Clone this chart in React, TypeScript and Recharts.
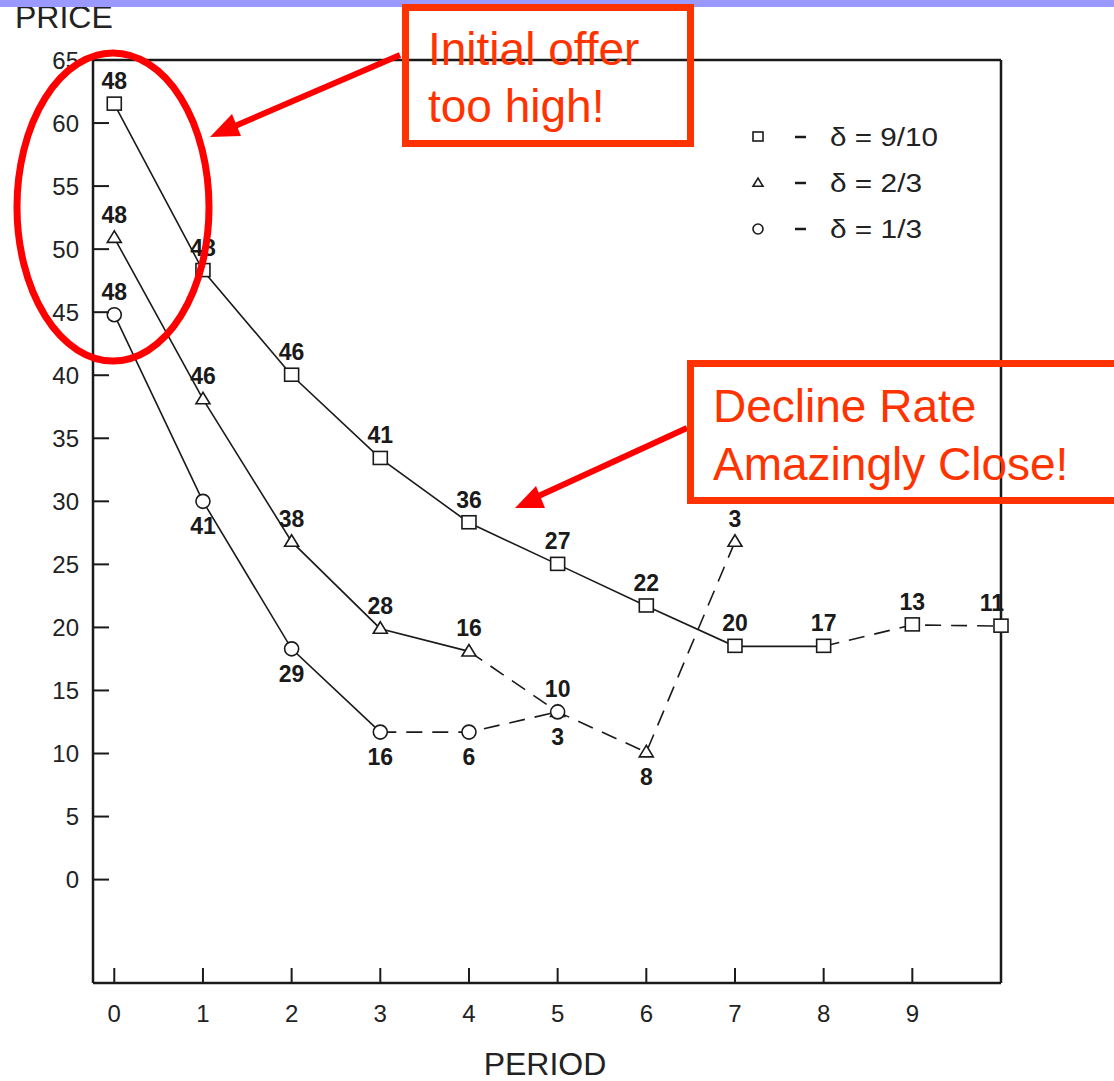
import { LineChart, Line, XAxis, YAxis, ReferenceLine } from "recharts"

const periods = [0, 1, 2, 3, 4, 5, 6, 7, 8, 9, 10]
const priceD910 = [61.5, 48.3, 40.0, 33.4, 28.3, 25.0, 21.7, 18.5, 18.5, 20.2, 20.1]
const offersD910 = [48, 48, 46, 41, 36, 27, 22, 20, 17, 13, 11]
const priceD23 = [50.9, 38.1, 26.8, 19.9, 18.1, 13.3, 10.1, 26.8]
const offersD23 = [48, 46, 38, 28, 16, 10, 8, 3]
const priceD13 = [44.8, 30.0, 18.3, 11.7, 11.7, 13.3]
const offersD13 = [48, 41, 29, 16, 6, 3]
// last period joined by a solid line; later periods are dashed
const solidEndD910 = 8
const solidEndD23 = 4
const solidEndD13 = 3
const sideD910 = ["up", "up", "up", "up", "up", "up", "up", "up", "up", "up", "up"]
const sideD23 = ["up", "up", "up", "up", "up", "up", "down", "up"]
const sideD13 = ["up", "down", "down", "down", "down", "down"]
const yTicks = [0, 5, 10, 15, 20, 25, 30, 35, 40, 45, 50, 55, 60, 65]
const xTicks = [0, 1, 2, 3, 4, 5, 6, 7, 8, 9]
const legendItems = [
  { shape: "square", text: "δ = 9/10", len: 108 },
  { shape: "triangle", text: "δ = 2/3", len: 92 },
  { shape: "circle", text: "δ = 1/3", len: 92 },
]

const INK = "#1a1a1a"
const RED = "#ff0000"
const ORANGE = "#ff3300"
const FONT = "'Liberation Sans', Arial, Helvetica, sans-serif"

const rows = (price: number[], offers: number[], sides: string[]) =>
  price.map((p, i) => ({ period: periods[i], price: p, offer: offers[i], side: sides[i] }))

const d910 = rows(priceD910, offersD910, sideD910)
const d23 = rows(priceD23, offersD23, sideD23)
const d13 = rows(priceD13, offersD13, sideD13)

function Marker({ shape, cx, cy, s }: { shape: string; cx: number; cy: number; s: number }) {
  const common = { fill: "#fff", stroke: INK, strokeWidth: 1.6 }
  if (shape === "square") return <rect x={cx - s / 2} y={cy - s / 2} width={s} height={s - 1} {...common} />
  if (shape === "triangle") {
    const h = s * 0.82
    return <polygon points={`${cx},${cy - h * 0.6} ${cx - s / 2},${cy + h * 0.4} ${cx + s / 2},${cy + h * 0.4}`} {...common} />
  }
  return <circle cx={cx} cy={cy} r={s / 2} {...common} />
}

const makeDot = (shape: string, count: number) => (props: any) => {
  const { cx, cy, index, payload } = props
  const below = payload.side === "down"
  // keep the last label inside the frame
  const dx = index === count - 1 && payload.period === 10 ? -9 : 0
  return (
    <g key={`${shape}-${index}`}>
      <Marker shape={shape} cx={cx} cy={cy} s={14} />
      <text
        x={cx + dx}
        y={below ? cy + 25 : cy - 23}
        textAnchor="middle"
        dominantBaseline="central"
        fontFamily={FONT}
        fontWeight="bold"
        fontSize={23}
        fill={INK}
      >
        {payload.offer}
      </text>
    </g>
  )
}

const YTick = ({ x, y, payload }: any) => (
  <g>
    <line x1={x} x2={x + 16} y1={y} y2={y} stroke={INK} strokeWidth={2} />
    <text x={x - 14} y={y} textAnchor="end" dominantBaseline="central" fontFamily={FONT} fontSize={24} fill="#222">
      {payload.value}
    </text>
  </g>
)

const XTick = ({ x, y, payload }: any) => (
  <g>
    <line x1={x} x2={x} y1={y} y2={y - 15} stroke={INK} strokeWidth={2} />
    <text x={x} y={y + 30} textAnchor="middle" dominantBaseline="central" fontFamily={FONT} fontSize={24} fill="#222">
      {payload.value}
    </text>
  </g>
)

export default function App() {
  const lineProps = { dataKey: "price", stroke: INK, strokeWidth: 1.6, dot: false, activeDot: false, isAnimationActive: false, type: "linear" as const }
  return (
    <div style={{ position: "absolute", left: 0, top: 0, width: 1114, height: 1081, background: "#fff", overflow: "hidden" }}>
      <LineChart width={1114} height={1081} margin={{ top: 60, right: 113, bottom: 38, left: 33 }}>
        <XAxis
          type="number"
          dataKey="period"
          domain={[-0.24, 10]}
          ticks={xTicks}
          height={60}
          tickSize={0}
          tickMargin={0}
          tickLine={false}
          axisLine={{ stroke: INK, strokeWidth: 2.5 }}
          tick={<XTick />}
          interval={0}
        />
        <YAxis
          type="number"
          domain={[-8.2, 65]}
          ticks={yTicks}
          width={60}
          tickSize={0}
          tickMargin={0}
          tickLine={false}
          axisLine={{ stroke: INK, strokeWidth: 2.5 }}
          tick={<YTick />}
          interval={0}
        />
        <ReferenceLine y={65} stroke={INK} strokeWidth={2.5} />
        <ReferenceLine x={10} stroke={INK} strokeWidth={2.5} />

        <Line {...lineProps} data={d910.slice(0, solidEndD910 + 1)} />
        <Line {...lineProps} data={d910.slice(solidEndD910)} strokeDasharray="16 10" />
        <Line {...lineProps} data={d23.slice(0, solidEndD23 + 1)} />
        <Line {...lineProps} data={d23.slice(solidEndD23)} strokeDasharray="16 10" />
        <Line {...lineProps} data={d13.slice(0, solidEndD13 + 1)} />
        <Line {...lineProps} data={d13.slice(solidEndD13)} strokeDasharray="16 10" />

        <Line {...lineProps} data={d910} stroke="none" dot={makeDot("square", d910.length)} />
        <Line {...lineProps} data={d23} stroke="none" dot={makeDot("triangle", d23.length)} />
        <Line {...lineProps} data={d13} stroke="none" dot={makeDot("circle", d13.length)} />
      </LineChart>

      <svg width={1114} height={1081} style={{ position: "absolute", left: 0, top: 0, pointerEvents: "none" }}>
        <text x={15} y={28} fontFamily={FONT} fontSize={32} fill="#222">PRICE</text>
        <text x={545} y={1075} textAnchor="middle" fontFamily={FONT} fontSize={32} fill="#222">PERIOD</text>

        {legendItems.map((it, i) => (
          <g key={it.text}>
            <Marker shape={it.shape} cx={758} cy={137 + i * 46} s={10} />
            <line x1={795} x2={806} y1={137 + i * 46} y2={137 + i * 46} stroke={INK} strokeWidth={2.5} />
            <text
              x={830}
              y={137 + i * 46}
              dominantBaseline="central"
              fontFamily={FONT}
              fontSize={25}
              fill="#222"
              textLength={it.len}
              lengthAdjust="spacingAndGlyphs"
            >
              {it.text}
            </text>
          </g>
        ))}

        <rect x={0} y={0} width={1114} height={7} fill="#9999ff" />

        <ellipse cx={113} cy={207} rx={96} ry={154} fill="none" stroke={RED} strokeWidth={7} />

        <line x1={400} y1={55} x2={228} y2={129} stroke={RED} strokeWidth={6} />
        <polygon points="210,137 232,114 241,136" fill={RED} />
        <line x1={687} y1={428} x2={532} y2={499} stroke={RED} strokeWidth={6} />
        <polygon points="515,508 536,486 545,508" fill={RED} />

        <rect x={405.5} y={7.5} width={285} height={136} fill="none" stroke={ORANGE} strokeWidth={7} />
        <g fontFamily={FONT} fontSize={46} fill={ORANGE}>
          <text x={428} y={65}>Initial offer</text>
          <text x={428} y={122}>too high!</text>
        </g>
        <rect x={690.5} y={363.5} width={440} height={137} fill="none" stroke={ORANGE} strokeWidth={7} />
        <g fontFamily={FONT} fontSize={46} fill={ORANGE}>
          <text x={713} y={422}>Decline Rate</text>
          <text x={713} y={480}>Amazingly Close!</text>
        </g>
      </svg>
    </div>
  )
}
